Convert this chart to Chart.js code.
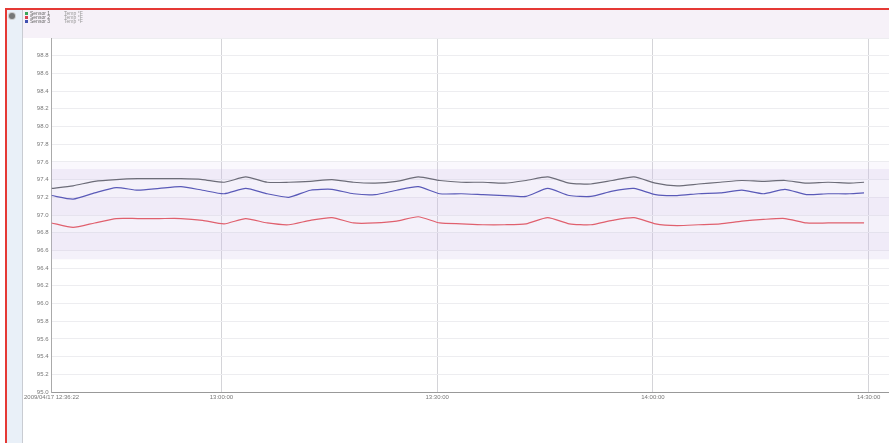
<!DOCTYPE html>
<html>
<head>
<meta charset="utf-8">
<script src="https://cdn.jsdelivr.net/npm/chart.js@4"></script>
<style>
  html, body { margin: 0; padding: 0; background: #fff; width: 889px; height: 443px; overflow: hidden; }
  #frame { position: absolute; left: 5px; top: 8px; width: 900px; height: 450px; border-top: 2px solid #e53935; border-left: 2px solid #e53935; }
  #strip { position: absolute; left: 7px; top: 10px; width: 15px; height: 440px; background: #e9f0f8; border-right: 1px solid #c9ccd2; }
  #header { position: absolute; left: 23px; top: 10px; width: 880px; height: 28px; background: #f6f1f8; }
  #wrap { position: absolute; left: 22px; top: 10px; width: 878px; height: 400px; }
  #dot { position: absolute; left: 9px; top: 13px; width: 6px; height: 6px; border-radius: 50%; background: #777; box-shadow: 0 0 0 1px #ccc; }
  #legend { position: absolute; left: 25px; top: 11px; font: 5px "Liberation Sans", Arial, sans-serif; color: #666; line-height: 4px; }
  #legend .row { white-space: nowrap; }
  #legend .sw { display: inline-block; width: 3px; height: 3px; margin-right: 2px; }
  #legend .t2 { display: inline-block; margin-left: 14px; color: #999; }
</style>
</head>
<body>
<div id="frame"></div>
<div id="strip"></div>
<div id="header"></div>
<div id="wrap"><canvas id="chart"></canvas></div>
<div id="dot"></div>
<div id="legend"></div>
<script>
// minutes elapsed since 12:36:22
const minutes = [0, 3, 6, 9, 12, 15, 18, 21, 24, 27, 30, 33, 36, 39, 42, 45, 48, 51, 54, 57,
  60, 63, 66, 69, 72, 75, 78, 81, 84, 87, 90, 93, 96, 99, 102, 105, 108, 111, 113];

const seriesNames = ['Sensor 1', 'Sensor 2', 'Sensor 3'];
const legendColors = ['#3aa65a', '#d9404e', '#4050b0'];
const legendUnits = ['Temp °F', 'Temp °F', 'Temp °F'];

const sensor1 = [97.30, 97.33, 97.38, 97.40, 97.41, 97.41, 97.41, 97.40, 97.37, 97.43,
  97.37, 97.37, 97.38, 97.40, 97.37, 97.36, 97.38, 97.43, 97.39, 97.37,
  97.37, 97.36, 97.39, 97.43, 97.36, 97.35, 97.39, 97.43, 97.36, 97.33,
  97.35, 97.37, 97.39, 97.38, 97.39, 97.36, 97.37, 97.36, 97.37];

const sensor2 = [96.91, 96.86, 96.91, 96.96, 96.96, 96.96, 96.96, 96.94, 96.90, 96.96,
  96.91, 96.89, 96.94, 96.97, 96.91, 96.91, 96.93, 96.98, 96.91, 96.90,
  96.89, 96.89, 96.90, 96.97, 96.90, 96.89, 96.94, 96.97, 96.90, 96.88,
  96.89, 96.90, 96.93, 96.95, 96.96, 96.91, 96.91, 96.91, 96.91];

const sensor3 = [97.22, 97.18, 97.25, 97.31, 97.28, 97.30, 97.32, 97.28, 97.24, 97.30,
  97.24, 97.20, 97.28, 97.29, 97.24, 97.23, 97.28, 97.32, 97.24, 97.24,
  97.23, 97.22, 97.21, 97.30, 97.22, 97.21, 97.27, 97.30, 97.23, 97.22,
  97.24, 97.25, 97.28, 97.24, 97.29, 97.23, 97.24, 97.24, 97.25];

const lineColors = ['#6c6c78', '#e0606e', '#5a5ab8'];

// x tick positions (minutes) and their labels
const xTicks = [0, 23.633, 53.633, 83.633, 113.633];
const xTickLabels = ['2009/04/17 12:36:22', '13:00:00', '13:30:00', '14:00:00', '14:30:00'];

// normal range band
const bandLow = 96.5;
const bandHigh = 97.52;

const toPoints = (vals) => vals.map((v, i) => ({ x: minutes[i], y: v }));

// legend in header
const legendEl = document.getElementById('legend');
seriesNames.forEach((name, i) => {
    const row = document.createElement('div');
    row.className = 'row';
    row.innerHTML = `<span class="sw" style="background:${legendColors[i]}"></span>${name}<span class="t2">${legendUnits[i]}</span>`;
    legendEl.appendChild(row);
});

const bandPlugin = {
    id: 'band',
    beforeDatasetsDraw(chart) {
        const { ctx, chartArea, scales } = chart;
        const y = scales.y;
        const top = y.getPixelForValue(bandHigh);
        const bottom = y.getPixelForValue(bandLow);
        ctx.save();
        ctx.fillStyle = 'rgba(205, 192, 232, 0.22)';
        ctx.fillRect(chartArea.left, top, chartArea.right - chartArea.left, bottom - top);
        // faint stripes inside the band
        ctx.fillStyle = 'rgba(215, 200, 235, 0.12)';
        for (let v = 96.6; v < bandHigh; v += 0.4) {
            const a = y.getPixelForValue(v + 0.2);
            const b = y.getPixelForValue(v);
            ctx.fillRect(chartArea.left, a, chartArea.right - chartArea.left, b - a);
        }
        ctx.restore();
    }
};

new Chart(document.getElementById('chart'), {
    type: 'line',
    data: {
        datasets: [
            { label: seriesNames[0], data: toPoints(sensor1), borderColor: lineColors[0] },
            { label: seriesNames[1], data: toPoints(sensor2), borderColor: lineColors[1] },
            { label: seriesNames[2], data: toPoints(sensor3), borderColor: lineColors[2] },
        ].map(d => ({ ...d, borderWidth: 1.2, pointRadius: 0, tension: 0.2, fill: false })),
    },
    options: {
        responsive: true,
        maintainAspectRatio: false,
        animation: false,
        layout: { padding: { top: 28, right: 0, bottom: 0, left: 0 } },
        plugins: {
            legend: { display: false },
            tooltip: { enabled: false },
        },
        scales: {
            x: {
                type: 'linear',
                min: 0,
                max: 118,
                afterBuildTicks: (axis) => { axis.ticks = xTicks.map(v => ({ value: v })); },
                afterFit: (axis) => { axis.height = 18; },
                ticks: {
                    autoSkip: false,
                    maxRotation: 0,
                    color: '#777',
                    font: { size: 6, family: 'Liberation Sans' },
                    padding: 2,
                    callback: (v, i) => xTickLabels[i],
                },
                grid: { color: '#d4d4d8', drawTicks: false },
                border: { color: '#999' },
            },
            y: {
                min: 95.0,
                max: 99.0,
                afterFit: (axis) => { axis.width = 28; },
                ticks: {
                    stepSize: 0.2,
                    color: '#777',
                    font: { size: 6, family: 'Liberation Sans' },
                    padding: 3,
                    callback: (v) => (v >= 98.99 ? '' : v.toFixed(1)),
                },
                grid: { color: '#ededf0', drawTicks: false },
                border: { color: '#aaa' },
            },
        },
    },
    plugins: [bandPlugin],
});
</script>
</body>
</html>
